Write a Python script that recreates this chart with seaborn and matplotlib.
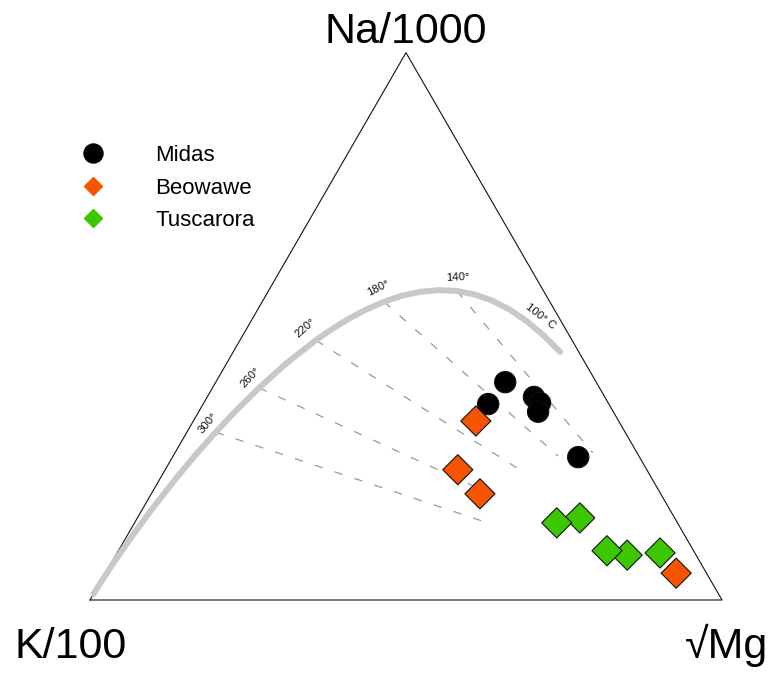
import numpy as np
import pandas as pd
import matplotlib
matplotlib.use("Agg")
import matplotlib.pyplot as plt
from matplotlib.lines import Line2D
import seaborn as sns

# Sample compositions, ternary % of (Na/1000, K/100, sqrt(Mg))
midas_na = [39.8, 35.8, 37.1, 36.0, 34.4, 26.1]
midas_k = [14.4, 19.1, 11.2, 10.8, 11.9, 9.7]
midas_mg = [45.8, 45.1, 51.7, 53.2, 53.7, 64.2]

tusc_na = [15.0, 14.1, 8.2, 9.0, 8.6]
tusc_k = [15.0, 19.1, 10.9, 13.7, 5.5]
tusc_mg = [70.0, 66.8, 80.9, 77.3, 85.9]

beo_na = [32.7, 23.8, 19.4, 4.9]
beo_k = [22.6, 29.9, 28.6, 4.8]
beo_mg = [44.7, 46.3, 52.0, 90.3]

# full equilibrium curve (deg C -> ternary %)
curve_t = [80, 90, 100, 110, 120, 130, 140, 150, 160, 170, 180, 190, 200, 210,
           220, 240, 260, 280, 300, 325, 350, 400, 450, 500, 600, 800, 1000, 1500]
curve_na = [45.31, 48.30, 50.89, 53.01, 54.66, 55.81, 56.47, 56.62, 56.31, 55.59,
            54.50, 53.07, 51.39, 49.50, 47.47, 43.15, 38.74, 34.56, 30.66, 26.34,
            22.62, 16.85, 12.82, 9.98, 6.48, 3.39, 2.15, 1.07]
curve_k = [2.95, 4.04, 5.39, 7.03, 8.96, 11.20, 13.72, 16.53, 19.57, 22.82,
           26.24, 29.77, 33.35, 36.96, 40.54, 47.44, 53.88, 59.66, 64.78, 70.25,
           74.79, 81.61, 86.21, 89.39, 93.21, 96.51, 97.80, 98.91]
curve_mg = [51.74, 47.66, 43.72, 39.96, 36.38, 32.99, 29.81, 26.85, 24.11, 21.58,
            19.27, 17.16, 15.25, 13.54, 12.00, 9.40, 7.37, 5.78, 4.56, 3.41,
            2.58, 1.54, 0.97, 0.64, 0.31, 0.11, 0.05, 0.02]

# Na/K isotherms: start on the curve, end points
iso_t = [300, 260, 220, 180, 140]
iso_end_na = [13.9, 19.4, 23.8, 26.3, 26.9]
iso_end_k = [29.6, 26.9, 20.1, 12.8, 7.0]
iso_end_mg = [56.5, 53.7, 56.1, 60.9, 66.1]

label_t = [300, 260, 220, 180, 140, 100]
label_txt = ["300°", "260°", "220°", "180°", "140°", "100° C"]
label_rot = [50, 47, 42, 27, 3, -38]
label_off = [(-6, 6.5), (-6.5, 8), (-8, 8.6), (-4.3, 10), (0.7, 10), (9.4, 3.6)]

sites = ["Midas", "Beowawe", "Tuscarora"]
colors = {"Midas": "black", "Beowawe": "#f55500", "Tuscarora": "#3cc800"}

S3 = np.sqrt(3) / 2


def tern_xy(na, k, mg):
    na, k, mg = np.asarray(na, float), np.asarray(k, float), np.asarray(mg, float)
    tot = na + k + mg
    return (mg + na / 2) / tot, na * S3 / tot


sns.set_style("white")
plt.rcParams["font.family"] = ["Liberation Sans", "DejaVu Sans"]
plt.rcParams["text.color"] = "black"

fig = plt.figure(figsize=(7.75, 6.75), dpi=100)
ax = fig.add_axes([0, 0, 1, 1])
ax.set_xlim(-90 / 632, 685 / 632)
ax.set_ylim(-75 / 632, 600 / 632)
ax.axis("off")

# triangle frame
ax.plot([0, 1, 0.5, 0], [0, 0, S3, 0], color="#111111", lw=0.8, zorder=1)

# isotherms
cx, cy = tern_xy(curve_na, curve_k, curve_mg)
ex, ey = tern_xy(iso_end_na, iso_end_k, iso_end_mg)
for i, t in enumerate(iso_t):
    j = curve_t.index(t)
    ax.plot([cx[j], ex[i]], [cy[j], ey[i]], color="#999999", lw=0.9,
            dashes=(6.7, 10), zorder=1)

# equilibrium curve
sns.lineplot(x=cx, y=cy, sort=False, estimator=None, color="#c8c8c8", lw=4.3,
             solid_capstyle="round", ax=ax, zorder=2)

for t, txt, rot, off in zip(label_t, label_txt, label_rot, label_off):
    j = curve_t.index(t)
    ax.annotate(txt, (cx[j], cy[j]), xytext=off, textcoords="offset points",
                ha="center", va="center", rotation=rot, rotation_mode="anchor",
                fontsize=8.2, color="#111111")

# samples
rows = []
for name, na, k, mg in [("Midas", midas_na, midas_k, midas_mg),
                        ("Tuscarora", tusc_na, tusc_k, tusc_mg),
                        ("Beowawe", beo_na, beo_k, beo_mg)]:
    x, y = tern_xy(na, k, mg)
    for xi, yi in zip(x, y):
        rows.append({"site": name, "x": xi, "y": yi})
df = pd.DataFrame(rows)

sns.scatterplot(data=df, x="x", y="y", hue="site", style="site",
                markers={"Midas": "o", "Beowawe": "D", "Tuscarora": "D"},
                palette=colors, s=235, edgecolor="#111111", linewidth=0.8,
                legend=False, ax=ax, zorder=3)

# vertex labels
lab_kw = dict(textcoords="offset points", fontsize=31, va="baseline",
              ha="center", color="black")
ax.annotate("Na/1000", (0.5, S3), xytext=(0, 7), **lab_kw)
ax.annotate("K/100", (0, 0), xytext=(-13.7, -41.8), **lab_kw)
ax.annotate("√Mg", (1, 0), xytext=(3.6, -41.8), **lab_kw)

handles = [
    Line2D([], [], ls="", marker="o", color="black", markersize=13.7),
    Line2D([], [], ls="", marker="D", color=colors["Beowawe"], markersize=9),
    Line2D([], [], ls="", marker="D", color=colors["Tuscarora"], markersize=9),
]
ax.legend(handles, sites, loc="upper left", bbox_to_anchor=(0.080, 0.798),
          borderaxespad=0, frameon=False, fontsize=16, handlelength=2,
          handletextpad=1.79, labelspacing=0.51, labelcolor="black")

fig.savefig("out.png", dpi=100)
